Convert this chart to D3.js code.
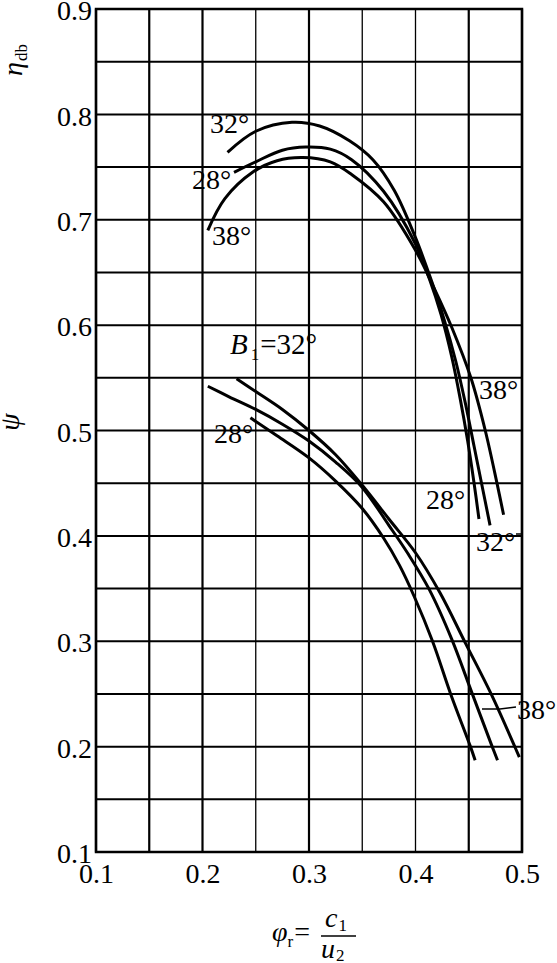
<!DOCTYPE html>
<html><head><meta charset="utf-8">
<script src="https://cdn.jsdelivr.net/npm/d3@7"></script>
<style>body{margin:0;background:#fff}svg{display:block}</style>
</head><body>
<svg id="c" width="557" height="963"></svg>
<script>
// ---------- data ----------
const xTickLabels = [0.1, 0.2, 0.3, 0.4, 0.5];
const yTickLabels = [0.1, 0.2, 0.3, 0.4, 0.5, 0.6, 0.7, 0.8, 0.9];
const xGrid = [0.1, 0.15, 0.2, 0.25, 0.3, 0.35, 0.4, 0.45, 0.5];
const yGrid = [0.1, 0.15, 0.2, 0.25, 0.3, 0.35, 0.4, 0.45, 0.5, 0.55, 0.6, 0.65, 0.7, 0.75, 0.8, 0.85, 0.9];
const bladeAngles = ["32°", "28°", "38°"];

// efficiency η_db vs φr
const eta32X = [0.2235, 0.25, 0.284, 0.31, 0.338, 0.36, 0.38, 0.40, 0.415, 0.427, 0.438, 0.447, 0.455, 0.462, 0.470];
const eta32Y = [0.764, 0.784, 0.7925, 0.789, 0.775, 0.757, 0.728, 0.683, 0.642, 0.605, 0.565, 0.525, 0.485, 0.450, 0.410];
const eta28X = [0.2296, 0.25, 0.275, 0.297, 0.32, 0.34, 0.37, 0.40, 0.413, 0.424, 0.434, 0.442, 0.449, 0.455, 0.4596];
const eta28Y = [0.745, 0.755, 0.766, 0.769, 0.767, 0.757, 0.727, 0.677, 0.644, 0.610, 0.570, 0.530, 0.490, 0.450, 0.416];
const eta38X = [0.205, 0.221, 0.247, 0.27, 0.294, 0.32, 0.34, 0.37, 0.40, 0.418, 0.434, 0.452, 0.4655, 0.4765, 0.4827];
const eta38Y = [0.690, 0.720, 0.745, 0.756, 0.759, 0.755, 0.743, 0.717, 0.671, 0.634, 0.598, 0.550, 0.500, 0.450, 0.420];

// pressure coefficient ψ vs φr
const psi32X = [0.232, 0.25, 0.275, 0.30, 0.325, 0.35, 0.375, 0.40, 0.423, 0.447, 0.471, 0.4932, 0.4975];
const psi32Y = [0.549, 0.537, 0.520, 0.500, 0.477, 0.448, 0.416, 0.384, 0.346, 0.298, 0.250, 0.200, 0.190];
const psi28X = [0.245, 0.27, 0.30, 0.325, 0.35, 0.37, 0.385, 0.399, 0.416, 0.433, 0.4516, 0.456];
const psi28Y = [0.512, 0.495, 0.474, 0.452, 0.426, 0.398, 0.372, 0.342, 0.300, 0.250, 0.200, 0.187];
const psi38X = [0.205, 0.225, 0.25, 0.275, 0.30, 0.325, 0.35, 0.375, 0.393, 0.413, 0.434, 0.453, 0.472, 0.477];
const psi38Y = [0.542, 0.532, 0.520, 0.506, 0.490, 0.470, 0.446, 0.410, 0.383, 0.349, 0.302, 0.251, 0.200, 0.187];

// ---------- drawing ----------
const svg = d3.select("#c");
const FONT = "'Liberation Serif','Times New Roman',serif";
const x = d3.scaleLinear().domain([0.1, 0.5]).range([96, 522]);
const y = d3.scaleLinear().domain([0.1, 0.9]).range([852, 9]);

const zip = (xs, ys) => xs.map((v, i) => [v, ys[i]]);
const series = [
  zip(eta32X, eta32Y), zip(eta28X, eta28Y), zip(eta38X, eta38Y),
  zip(psi32X, psi32Y), zip(psi28X, psi28Y), zip(psi38X, psi38Y)
];

// grid
const thinX = new Set([0.25, 0.35, 0.4]);
svg.append("g").selectAll("line").data(yGrid).join("line")
  .attr("x1", x(0.1)).attr("x2", x(0.5))
  .attr("y1", d => y(d)).attr("y2", d => y(d))
  .attr("stroke", "#000").attr("stroke-width", 2);
svg.append("g").selectAll("line").data(xGrid).join("line")
  .attr("x1", d => x(d)).attr("x2", d => x(d))
  .attr("y1", y(0.1)).attr("y2", y(0.9))
  .attr("stroke", "#000").attr("stroke-width", d => thinX.has(d) ? 1.3 : 2.2);
svg.append("rect")
  .attr("x", x(0.1)).attr("y", y(0.9))
  .attr("width", x(0.5) - x(0.1)).attr("height", y(0.1) - y(0.9))
  .attr("fill", "none").attr("stroke", "#000").attr("stroke-width", 2.5);

// axes labels via d3 axes
const fmt = d3.format(".1f");
const gy = svg.append("g").attr("transform", `translate(${x(0.1)},0)`)
  .call(d3.axisLeft(y).tickValues(yTickLabels).tickFormat(fmt).tickSize(0).tickPadding(4));
gy.select(".domain").remove();
gy.selectAll("text").attr("font-family", FONT).attr("font-size", 28).attr("fill", "#000").attr("dy", "0.38em");

const gx = svg.append("g").attr("transform", `translate(0,${y(0.1)})`)
  .call(d3.axisBottom(x).tickValues(xTickLabels).tickFormat(fmt).tickSize(0).tickPadding(11));
gx.select(".domain").remove();
gx.selectAll("text").attr("font-family", FONT).attr("font-size", 28).attr("fill", "#000");

// curves
const line = d3.line().x(d => x(d[0])).y(d => y(d[1])).curve(d3.curveCatmullRom.alpha(0.5));
svg.append("g").selectAll("path").data(series).join("path")
  .attr("d", line).attr("fill", "none").attr("stroke", "#000")
  .attr("stroke-width", 3).attr("stroke-linecap", "butt");

// curve labels
function label(txt, px, py) {
  svg.append("text").attr("x", px).attr("y", py)
    .attr("font-family", FONT).attr("font-size", 28).attr("fill", "#000").text(txt);
}
label(bladeAngles[0], 210, 133);
label(bladeAngles[1], 192, 189);
label(bladeAngles[2], 212, 245);
label(bladeAngles[2], 479, 399);
label(bladeAngles[1], 426, 509);
label(bladeAngles[0], 476, 551);
label(bladeAngles[1], 214, 443);
label(bladeAngles[2], 517, 719);

// B1 = 32°
const b = svg.append("text").attr("x", 230).attr("y", 354)
  .attr("font-family", FONT).attr("font-size", 29).attr("fill", "#000");
b.append("tspan").attr("font-style", "italic").text("B");
b.append("tspan").attr("font-size", 17).attr("dy", 6).attr("dx", 3).text("1");
b.append("tspan").attr("dy", -6).attr("dx", 1).text("=" + bladeAngles[0]);

// leader lines
svg.append("path").attr("d", "M482,709 L500,709 L516,707")
  .attr("fill", "none").attr("stroke", "#000").attr("stroke-width", 1.5);
svg.append("line").attr("x1", 516).attr("x2", 522).attr("y1", 534).attr("y2", 534)
  .attr("stroke", "#000").attr("stroke-width", 1.5);

// y titles (rotated)
const eta = svg.append("text").attr("transform", "translate(22,76) rotate(-90)")
  .attr("font-family", FONT).attr("font-size", 28).attr("fill", "#000");
eta.append("tspan").attr("font-style", "italic").text("η");
eta.append("tspan").attr("font-size", 17).attr("dy", 5).attr("dx", 1).text("db");

svg.append("text").attr("transform", "translate(19,422) rotate(-90)")
  .attr("text-anchor", "middle").attr("font-family", FONT).attr("font-size", 28)
  .attr("font-style", "italic").attr("fill", "#000").text("ψ");

// x title: φr = c1 / u2
const t1 = svg.append("text").attr("x", 272).attr("y", 941)
  .attr("font-family", FONT).attr("font-size", 28).attr("fill", "#000");
t1.append("tspan").attr("font-style", "italic").text("φ");
t1.append("tspan").attr("font-size", 17).attr("dy", 6).text("r");
t1.append("tspan").attr("dy", -6).attr("dx", 1).text("=");
const num = svg.append("text").attr("x", 325).attr("y", 927)
  .attr("font-family", FONT).attr("font-size", 28).attr("fill", "#000");
num.append("tspan").attr("font-style", "italic").text("c");
num.append("tspan").attr("font-size", 17).attr("dy", 4).attr("dx", 1).text("1");
svg.append("line").attr("x1", 321).attr("x2", 356).attr("y1", 936).attr("y2", 936)
  .attr("stroke", "#000").attr("stroke-width", 1.5);
const den = svg.append("text").attr("x", 321).attr("y", 958)
  .attr("font-family", FONT).attr("font-size", 28).attr("fill", "#000");
den.append("tspan").attr("font-style", "italic").text("u");
den.append("tspan").attr("font-size", 17).attr("dy", 3).attr("dx", 1).text("2");
</script>
</body></html>
